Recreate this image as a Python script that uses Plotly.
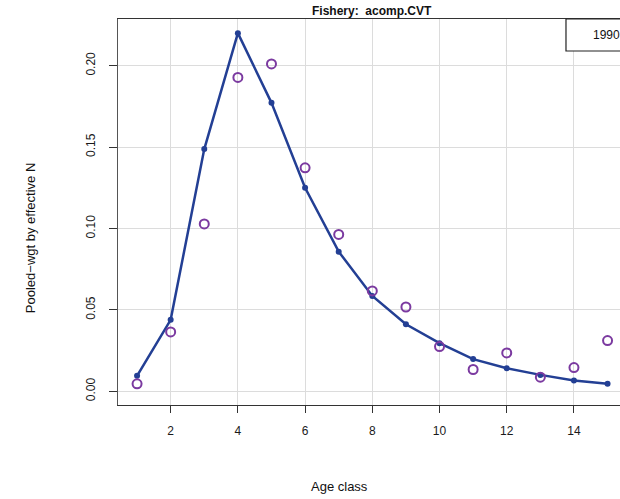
import plotly.graph_objects as go

# Age composition fit, fishery acomp.CVT, 1990
age_class = [1, 2, 3, 4, 5, 6, 7, 8, 9, 10, 11, 12, 13, 14, 15]
expected = [0.0095, 0.0439, 0.1488, 0.2200, 0.1772, 0.1250, 0.0858, 0.0586,
            0.0412, 0.0296, 0.0198, 0.0142, 0.0101, 0.0066, 0.0046]
observed = [0.0046, 0.0365, 0.1028, 0.1928, 0.2011, 0.1373, 0.0964, 0.0617,
            0.0518, 0.0275, 0.0134, 0.0236, 0.0087, 0.0146, 0.0312]
x_ticks = [2, 4, 6, 8, 10, 12, 14]
y_ticks = [0.00, 0.05, 0.10, 0.15, 0.20]
year_label = "1990"

FONT = "Liberation Sans, Arial, Helvetica, sans-serif"
LINE_COL = "#233f94"
OBS_COL = "#7b3aa0"

fig = go.Figure()
fig.add_trace(go.Scatter(
    x=age_class, y=expected, mode="lines+markers",
    line=dict(color=LINE_COL, width=2.5),
    marker=dict(color=LINE_COL, size=6),
    showlegend=False, cliponaxis=False,
))
fig.add_trace(go.Scatter(
    x=age_class, y=observed, mode="markers",
    marker=dict(symbol="circle-open", color=OBS_COL, size=9,
                line=dict(color=OBS_COL, width=2)),
    showlegend=False, cliponaxis=False,
))

fig.update_layout(
    width=620, height=499,
    margin=dict(l=118, r=0, t=19, b=94),
    paper_bgcolor="white", plot_bgcolor="white",
    font=dict(family=FONT, size=12, color="#222222"),
    xaxis=dict(
        range=[0.433, 15.37], tickvals=x_ticks,
        ticktext=[str(v) for v in x_ticks],
        showgrid=True, gridcolor="#dcdcdc", gridwidth=1,
        zeroline=False, showline=True, linecolor="#333333", linewidth=1.2,
        mirror=True, ticks="outside", ticklen=7, tickcolor="#333333",
        tickfont=dict(size=12, family=FONT, color="#1a1a1a"),
        ticklabelstandoff=7,
    ),
    yaxis=dict(
        range=[-0.0084, 0.2287], tickvals=y_ticks,
        ticktext=["%.2f" % v for v in y_ticks],
        tickangle=-90,
        showgrid=True, gridcolor="#dcdcdc", gridwidth=1,
        zeroline=False, showline=True, linecolor="#555555", linewidth=1.2,
        ticks="outside", ticklen=8, tickcolor="#333333",
        tickfont=dict(size=12, family=FONT, color="#1a1a1a"),
        ticklabelstandoff=9,
    ),
    shapes=[
        dict(type="rect", xref="paper", yref="paper",
             x0=0.8924, x1=1.05, y0=0.9171, y1=1.0,
             line=dict(color="#222222", width=1.2), fillcolor="white",
             layer="above"),
    ],
    annotations=[
        dict(text="<b>Fishery:  acomp.CVT</b>", xref="paper", yref="paper",
             x=0.505, y=1.0207, xanchor="center", yanchor="middle",
             showarrow=False, font=dict(size=12, family=FONT, color="#111111")),
        dict(text="Age class", xref="paper", yref="paper",
             x=0.442, y=-0.2124, xanchor="center", yanchor="middle",
             showarrow=False, font=dict(size=13, family=FONT, color="#111111")),
        dict(text="Pooled\u2212wgt by effective N", xref="paper", yref="paper",
             x=-0.175, y=0.4326, xanchor="center", yanchor="middle",
             textangle=-90, showarrow=False,
             font=dict(size=13, family=FONT, color="#111111")),
        dict(text=year_label, xref="paper", yref="paper",
             x=0.9422, y=0.9585, xanchor="left", yanchor="middle",
             showarrow=False, font=dict(size=12, family=FONT, color="#111111")),
    ],
)

fig.write_html("out.html")
